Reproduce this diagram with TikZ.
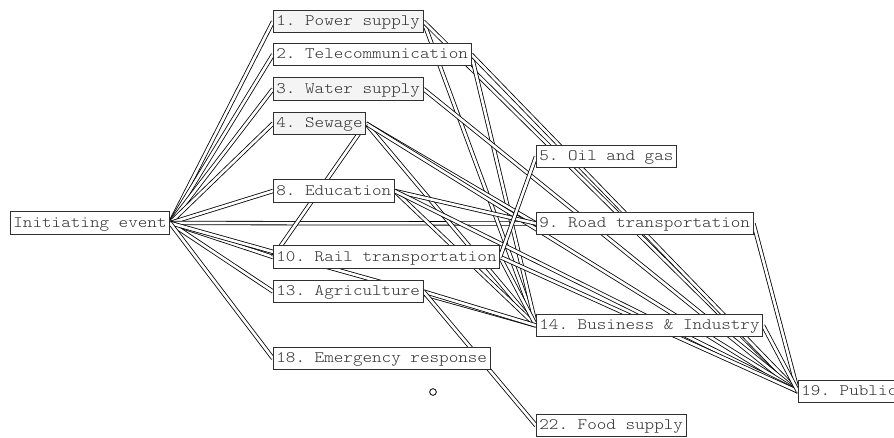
\documentclass[tikz,border=0pt]{standalone}
\usepackage{fontspec}
\setmonofont{lmmonolt10-regular.otf}[FakeStretch=1.14]
\usetikzlibrary{positioning,backgrounds}
\definecolor{boxline}{HTML}{303030}
\definecolor{boxtext}{HTML}{303030}
\definecolor{boxfill}{HTML}{F4F4F4}

\begin{document}
\begin{tikzpicture}[x=0.75pt, y=-0.75pt,
    item/.style={draw=boxline, fill=white, text=boxtext, line width=0.6pt,
      font=\ttfamily\fontsize{12}{14}\selectfont, anchor=west,
      inner xsep=2.25pt, inner ysep=0pt, text height=8.6pt, text depth=2.6pt,
      minimum height=17pt},
    link/.style={double, double distance=2pt, line width=0.6pt}]
    \useasboundingbox (0,0) rectangle (894,437);

    % Start node
    \node[item] (ie) at (10,223) {Initiating event};

    % First column
    \node[item, fill=boxfill] (n1) at (273,21.5) {1. Power supply};
    \node[item] (n2) at (273,54.5) {2. Telecommunication};
    \node[item, fill=boxfill] (n3) at (273,89) {3. Water supply};
    \node[item, fill=boxfill] (n4) at (273,123.5) {4. Sewage};
    \node[item] (n8) at (273,191) {8. Education};
    \node[item] (n10) at (273,257) {10. Rail transportation};
    \node[item] (n13) at (273,291.5) {13. Agriculture};
    \node[item] (n18) at (273,358.5) {18. Emergency response};

    % Second column
    \node[item] (n5) at (536,156.5) {5. Oil and gas};
    \node[item] (n9) at (536,223.5) {9. Road transportation};
    \node[item] (n14) at (536,325.5) {14. Business \& Industry};
    \node[item] (n22) at (536,425.5) {22. Food supply};

    % Last column
    \node[item] (n19) at (798,391.5) {19. Public};

    % Loose point
    \node[circle, draw, line width=0.6pt, inner sep=0pt, minimum size=5pt] (dot) at (433,392) {};

    % Links, behind the boxes
    \begin{scope}[on background layer]
        \foreach \t in {n1,n2,n3,n4,n8,n9,n10,n13,n14,n18}
            \draw[link] (ie.east) -- (\t.west);
        \foreach \s/\t in {n1/n14, n1/n19, n2/n14, n2/n19, n3/n19,
                           n4/n9, n4/n14, n4/n19, n8/n9, n8/n14, n8/n19,
                           n9/n19, n10/n14, n10/n19, n13/n14, n13/n22, n14/n19}
            \draw[link] (\s.east) -- (\t.west);
        \draw[link] (n4.east) -- (n10.west);
        \draw[link] (n10.east) -- (n5.west);
    \end{scope}
\end{tikzpicture}
\end{document}
